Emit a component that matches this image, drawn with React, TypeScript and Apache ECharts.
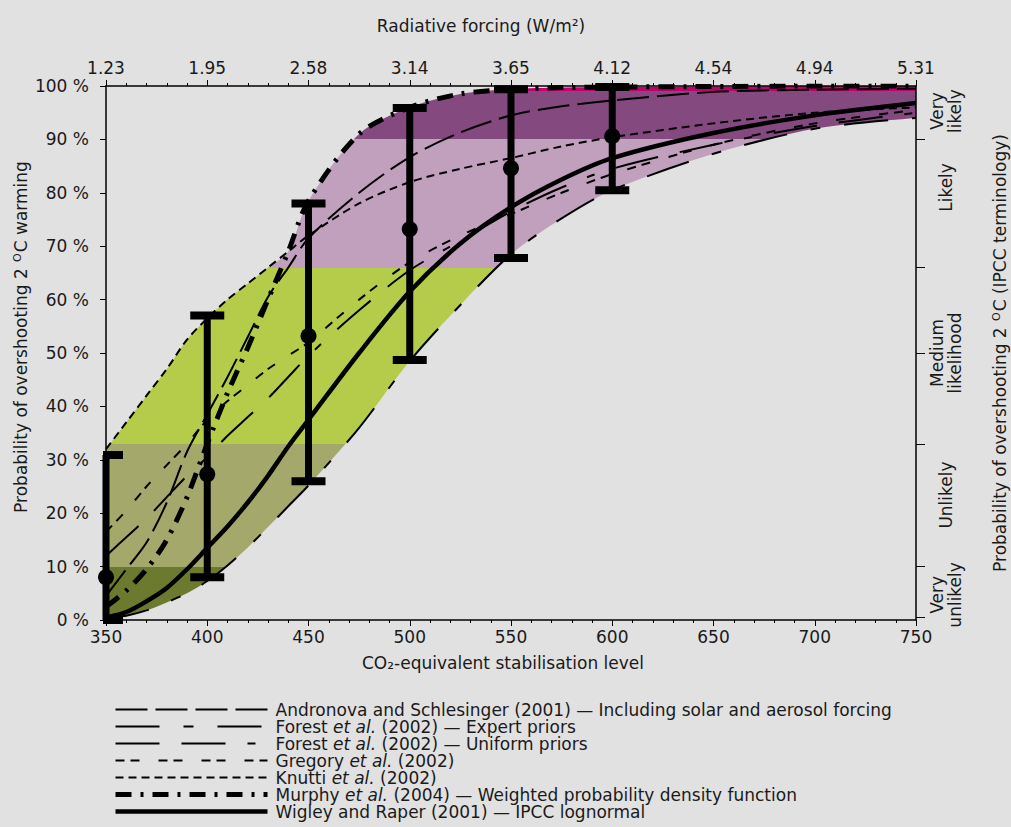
import React, { useEffect, useRef } from "react";
import * as echarts from "echarts";

// ---------- data ----------
const co2Levels = [350, 360, 370, 380, 390, 400, 410, 420, 430, 440, 450, 475, 500, 525, 550, 575, 600, 650, 700, 750];

const andronova = [4.5, 9.5, 14.5, 22, 31.5, 38.5, 45.5, 53, 60.5, 66, 71.5, 80, 86.7, 91.3, 94.5, 96.2, 97.3, 98.9, 99.3, 99.5];
const forestExpert = [0.3, 0.8, 1.8, 3.3, 5, 7.3, 10.2, 13.6, 17.4, 21.3, 25.2, 36, 48.5, 59, 68.5, 75.2, 80.5, 87.3, 92, 94];
const forestUniform = [12, 15.5, 19, 23, 27, 30.5, 34.5, 38, 41.5, 45.5, 49.5, 58, 65.5, 71, 76.5, 81, 84.5, 89, 92.5, 95];
const gregory = [16.5, 20.5, 25, 29, 33, 37.5, 41, 44, 47, 49.5, 52, 60, 67, 72, 76, 80, 83.5, 89, 93, 95.5];
const knutti = [32, 37, 42, 47, 52.5, 56.5, 60, 63, 66, 69, 72, 78, 82, 84.5, 86.5, 88.7, 90.4, 93, 95, 96];
const murphy = [2.5, 5.5, 9.5, 15, 23, 33, 42.5, 51, 60, 69, 78.5, 91, 96, 98.5, 99.4, 99.7, 99.8, 99.9, 100, 100];
const wigley = [0.5, 1.5, 3.5, 6, 9.5, 13.5, 17.5, 22, 27, 32.5, 37.5, 50, 61.5, 70.5, 77.3, 82.5, 86.5, 91.2, 94.5, 96.8];

const barLevels = [350, 400, 450, 500, 550, 600];
const barMean = [8, 27.3, 53.2, 73.2, 84.6, 90.6];
const barLow = [0, 8, 26, 48.7, 67.8, 80.5];
const barHigh = [30.9, 57, 78, 95.9, 99.4, 99.8];

const forcingLabels = ["1.23", "1.95", "2.58", "3.14", "3.65", "4.12", "4.54", "4.94", "5.31"];

const bandLimits = [0, 10, 33, 66, 90, 99, 100];
const bandColors = ["#6b7a2f", "#a4a86b", "#b5cb4a", "#c0a0bc", "#84497f", "#c4006e"];

const likelihoodTicks = [0.5, 10, 33, 50, 66, 90];
const likelihoodPos = [4.7, 23.4, 50, 81, 95.3];
const likelihoodLabels = ["Very\nunlikely", "Unlikely", "Medium\nlikelihood", "Likely", "Very\nlikely"];

const seriesNames = [
  "Andronova and Schlesinger (2001) — Including solar and aerosol forcing",
  "Forest et al. (2002) — Expert priors",
  "Forest et al. (2002) — Uniform priors",
  "Gregory et al. (2002)",
  "Knutti et al. (2002)",
  "Murphy et al. (2004) — Weighted probability density function",
  "Wigley and Raper (2001) — IPCC lognormal",
];
const seriesValues = [andronova, forestExpert, forestUniform, gregory, knutti, murphy, wigley];
const seriesDash: (number[] | "solid")[] = [
  [32, 8],
  [44, 24, 10, 24],
  [44, 22, 44, 22, 8, 22],
  [9, 6, 9, 19],
  [8, 5],
  [16, 9, 3, 9],
  "solid",
];
const seriesWidth = [2, 2, 2, 2, 2, 5, 4.5];

// ---------- derived ----------
const envLow = co2Levels.map((_, i) => Math.min(...seriesValues.map((s) => s[i])));
const envHigh = co2Levels.map((_, i) => Math.max(...seriesValues.map((s) => s[i])));

const FONT = "DejaVu Sans";
const TXT = "#1a1a1a";
const BG = "#e1e1e1";
const FS = 17;

function buildOption(): any {
  const curveSeries = seriesNames.map((name, k) => ({
    name,
    type: "line",
    data: co2Levels.map((x, i) => [x, seriesValues[k][i]]),
    smooth: 0.3,
    symbol: "none",
    z: 3,
    lineStyle: { color: "#000", width: seriesWidth[k], type: seriesDash[k], cap: "butt" },
    itemStyle: { color: "#000" },
    silent: true,
  }));

  const supRich = {
    s: { fontSize: 11, color: TXT, fontFamily: FONT, verticalAlign: "top", lineHeight: 12, padding: [0, 1, 8, 1] },
  };

  return {
    animation: false,
    backgroundColor: BG,
    textStyle: { fontFamily: FONT },
    grid: { left: 106, right: 95, top: 86, bottom: 207, containLabel: false, outerBoundsMode: "none" },
    legend: {
      data: seriesNames,
      orient: "vertical",
      left: 113,
      top: 701,
      itemWidth: 152,
      itemHeight: 10,
      itemGap: 0,
      padding: 0,
      selectedMode: false,
      itemStyle: { color: "rgba(0,0,0,0)", borderWidth: 0 },
      lineStyle: { width: "inherit" },
      textStyle: {
        fontFamily: FONT,
        fontSize: FS,
        lineHeight: 16.7,
        color: TXT,
        padding: [0, 0, 0, 3],
        rich: { i: { fontStyle: "italic", fontSize: FS, lineHeight: 16.7, fontFamily: FONT, color: TXT } },
      },
      formatter: (n: string) => n.replace("et al.", "{i|et al.}"),
    },
    visualMap: {
      type: "piecewise",
      show: false,
      seriesIndex: 0,
      dimension: 1,
      pieces: bandColors.map((c, i) => ({ gte: bandLimits[i], lt: bandLimits[i + 1], color: c })),
    },
    xAxis: [
      {
        type: "value",
        position: "bottom",
        min: 350,
        max: 750,
        interval: 50,
        z: 10,
        axisLine: { show: true, onZero: false, lineStyle: { color: "#000", width: 1.5 } },
        axisTick: { show: true, length: 6, lineStyle: { color: "#000" } },
        minorTick: { show: true, splitNumber: 5, length: 3, lineStyle: { color: "#000" } },
        axisLabel: { fontSize: FS, color: TXT, margin: 8, fontFamily: FONT },
        splitLine: { show: false },
        name: "CO₂-equivalent stabilisation level",
        nameLocation: "middle",
        nameGap: 34,
        nameMoveOverlap: false,
        nameTextStyle: { fontSize: FS, color: TXT, fontFamily: FONT, padding: [0, 16, 0, 0] },
      },
      {
        type: "value",
        position: "top",
        min: 350,
        max: 750,
        interval: 50,
        z: 10,
        axisLine: { show: true, onZero: false, lineStyle: { color: "#000", width: 1.5 } },
        axisTick: { show: true, length: 6, lineStyle: { color: "#000" } },
        minorTick: { show: true, splitNumber: 5, length: 3, lineStyle: { color: "#000" } },
        axisLabel: {
          fontSize: FS,
          color: TXT,
          margin: 10,
          fontFamily: FONT,
          formatter: (v: number) => forcingLabels[Math.round((v - 350) / 50)] ?? "",
        },
        splitLine: { show: false },
        name: "Radiative forcing (W/m²)",
        nameLocation: "middle",
        nameGap: 52,
        nameMoveOverlap: false,
        nameTextStyle: { fontSize: FS, color: TXT, fontFamily: FONT, padding: [0, 60, 0, 0] },
      },
    ],
    yAxis: [
      {
        type: "value",
        position: "left",
        min: 0,
        max: 100,
        interval: 10,
        z: 10,
        axisLine: { show: true, onZero: false, lineStyle: { color: "#000", width: 1.5 } },
        axisTick: { show: true, length: 6, lineStyle: { color: "#000" } },
        axisLabel: { fontSize: FS, color: TXT, margin: 17, formatter: "{value} %", fontFamily: FONT },
        splitLine: { show: false },
        name: "Probability of overshooting 2 {s|O}C warming",
        nameLocation: "middle",
        nameRotate: 90,
        nameGap: 77,
        nameMoveOverlap: false,
        nameTextStyle: {
          fontSize: FS,
          color: TXT,
          fontFamily: FONT,
          padding: [0, 0, 0, 32],
          rich: supRich,
        },
      },
      {
        type: "value",
        position: "right",
        min: 0,
        max: 100,
        z: 10,
        axisLine: { show: true, onZero: false, lineStyle: { color: "#000", width: 1.5 } },
        axisTick: { show: true, length: 9, customValues: likelihoodTicks, lineStyle: { color: "#000" } },
        axisLabel: {
          customValues: likelihoodPos,
          rotate: 90,
          fontSize: FS,
          lineHeight: 18,
          color: TXT,
          margin: 30,
          verticalAlign: "middle",
          fontFamily: FONT,
          formatter: (v: number) => {
            const i = likelihoodPos.findIndex((p) => Math.abs(p - v) < 0.01);
            return i >= 0 ? likelihoodLabels[i] : "";
          },
        },
        splitLine: { show: false },
        name: "Probability of overshooting 2 {s|O}C (IPCC terminology)",
        nameLocation: "middle",
        nameRotate: 90,
        nameGap: 75,
        nameMoveOverlap: false,
        nameTextStyle: {
          fontSize: FS,
          color: TXT,
          fontFamily: FONT,
          rich: supRich,
        },
      },
    ],
    series: [
      {
        name: "envelopeTop",
        type: "line",
        data: co2Levels.map((x, i) => [x, envHigh[i]]),
        smooth: 0.3,
        symbol: "none",
        lineStyle: { opacity: 0, width: 0 },
        areaStyle: { opacity: 1 },
        silent: true,
        z: 1,
      },
      {
        name: "envelopeBottom",
        type: "line",
        data: co2Levels.map((x, i) => [x, envLow[i]]),
        smooth: 0.3,
        symbol: "none",
        lineStyle: { opacity: 0, width: 0 },
        areaStyle: { opacity: 1, color: BG },
        silent: true,
        z: 2,
      },
      ...curveSeries,
      {
        name: "errorbars",
        type: "custom",
        z: 5,
        silent: true,
        clip: false,
        encode: { x: 0, y: [1, 2, 3] },
        data: barLevels.map((x, i) => [x, barMean[i], barLow[i], barHigh[i]]),
        renderItem: (params: any, api: any) => {
          const x = api.value(0);
          const pM = api.coord([x, api.value(1)]);
          const pLo = api.coord([x, api.value(2)]);
          const pHi = api.coord([x, api.value(3)]);
          const left = params.coordSys.x - 3;
          const bw = 7;
          const cw = 34;
          const ch = 8;
          const capX = Math.max(pHi[0] - cw / 2, left);
          const capW = pHi[0] + cw / 2 - capX;
          const fill = { fill: "#000" };
          return {
            type: "group",
            children: [
              { type: "rect", shape: { x: pHi[0] - bw / 2, y: pHi[1], width: bw, height: pLo[1] - pHi[1] }, style: fill },
              { type: "rect", shape: { x: capX, y: pHi[1] - ch / 2, width: capW, height: ch }, style: fill },
              { type: "rect", shape: { x: capX, y: pLo[1] - ch / 2, width: capW, height: ch }, style: fill },
              { type: "circle", shape: { cx: pM[0], cy: pM[1], r: 8 }, style: fill },
            ],
          };
        },
      },
    ],
  };
}

export default function App() {
  const ref = useRef<HTMLDivElement>(null);
  useEffect(() => {
    document.body.style.margin = "0";
    document.body.style.background = BG;
    const chart = echarts.init(ref.current as HTMLDivElement, null, { renderer: "svg" });
    chart.setOption(buildOption());
    return () => chart.dispose();
  }, []);
  return <div ref={ref} style={{ width: 1011, height: 827 }} />;
}
